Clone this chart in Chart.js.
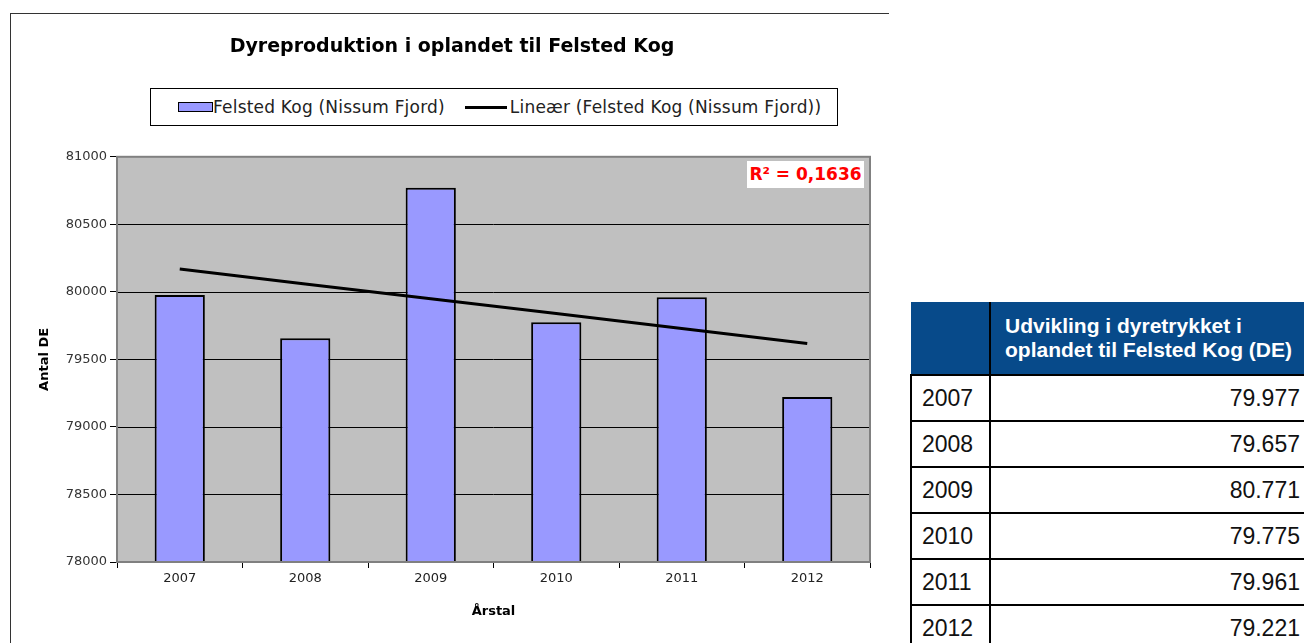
<!DOCTYPE html>
<html>
<head>
<meta charset="utf-8">
<script src="https://cdn.jsdelivr.net/npm/chart.js@4"></script>
<style>
    body { margin: 0; background: #fff; font-family: "DejaVu Sans", Arial, sans-serif; }
    #frame { position: absolute; left: 10px; top: 13px; width: 878px; height: 640px; border-top: 1px solid #333; border-left: 1px solid #333; }
    #chartBox { position: absolute; left: 11px; top: 14px; width: 878px; height: 629px; }
    #legend { position: absolute; left: 150px; top: 88px; width: 686px; height: 36px; border: 1px solid #000; background: #fff;
              font-size: 17px; letter-spacing: 0.2px; color: #222; display: flex; align-items: center; white-space: nowrap; }
    #legend .sw { display: inline-block; width: 33px; height: 8px; background: #9999ff; border: 1px solid #000; margin-left: 27px; }
    #legend .ln { display: inline-block; width: 42px; height: 3px; background: #000; margin-left: 20px; margin-right: 3px; }
    #r2 { position: absolute; left: 747px; top: 161px; width: 117px; height: 27px; background: #fff; color: #ff0000;
          font-weight: bold; font-size: 17px; line-height: 27px; text-align: center; white-space: nowrap; }
    table { position: absolute; left: 910px; top: 302px; width: 400px; border-collapse: collapse;
            font-family: "Liberation Sans Narrow", "Arial Narrow", "Liberation Sans", sans-serif; }
    th { background: #074a8a; color: #fff; font-weight: bold; font-size: 21px; text-align: left; line-height: 24px; height: 72px;
         padding: 0 0 0 14px; }
    th.c0 { width: 64px; border-right: 2px solid #000; }
    td { border: 2px solid #000; height: 44px; font-size: 23px; color: #111; padding: 0; }
    td.c0 { padding-left: 10px; }
    td.c1 { text-align: right; padding-right: 10px; border-right: none; }
</style>
</head>
<body>
<div id="frame"></div>
<div id="chartBox"><canvas id="chart"></canvas></div>
<div id="legend"><span class="sw"></span>Felsted Kog (Nissum Fjord)<span class="ln"></span>Lineær (Felsted Kog (Nissum Fjord))</div>
<div id="r2">R² = 0,1636</div>
<table id="tbl"></table>
<script>
const years = ['2007', '2008', '2009', '2010', '2011', '2012'];
const animals = [79977, 79657, 80771, 79775, 79961, 79221];
const trend = [80170, 80059, 79949, 79839, 79728, 79618];
const tableValues = ['79.977', '79.657', '80.771', '79.775', '79.961', '79.221'];
const yTicks = { min: 78000, max: 81000, step: 500 };

const FONT = '"DejaVu Sans", Arial';

// table to the right
const tbl = document.getElementById('tbl');
let html = '<tr><th class="c0"></th><th>Udvikling i dyretrykket i<br>oplandet til Felsted Kog (DE)</th></tr>';
years.forEach((y, i) => {
    html += '<tr><td class="c0">' + y + '</td><td class="c1">' + tableValues[i] + '</td></tr>';
});
tbl.innerHTML = html;

const plotFrame = {
    id: 'plotFrame',
    beforeDatasetsDraw(chart) {
        const a = chart.chartArea, c = chart.ctx;
        c.save();
        c.fillStyle = '#c0c0c0';
        c.fillRect(a.left, a.top, a.right - a.left, a.bottom - a.top);
        // grid lines on top of the fill
        const y = chart.scales.y;
        c.strokeStyle = '#000';
        c.lineWidth = 1;
        for (let v = yTicks.min + yTicks.step; v < yTicks.max; v += yTicks.step) {
            const py = Math.round(y.getPixelForValue(v)) + 0.5;
            c.beginPath(); c.moveTo(a.left, py); c.lineTo(a.right, py); c.stroke();
        }
        c.restore();
    },
    afterDatasetsDraw(chart) {
        const a = chart.chartArea, c = chart.ctx;
        c.save();
        c.strokeStyle = '#808080';
        c.lineWidth = 2;
        c.strokeRect(a.left, a.top, a.right - a.left, a.bottom - a.top);
        c.restore();
    }
};

new Chart(document.getElementById('chart').getContext('2d'), {
    data: {
        labels: years,
        datasets: [
            {
                type: 'line',
                label: 'Lineær (Felsted Kog (Nissum Fjord))',
                data: trend,
                borderColor: '#000',
                borderWidth: 3,
                pointRadius: 0,
                order: 0
            },
            {
                type: 'bar',
                label: 'Felsted Kog (Nissum Fjord)',
                data: animals,
                backgroundColor: '#9999ff',
                borderColor: '#000',
                borderWidth: 2,
                borderSkipped: 'bottom',
                barPercentage: 0.4,
                categoryPercentage: 1,
                order: 1
            }
        ]
    },
    options: {
        responsive: true,
        maintainAspectRatio: false,
        animation: false,
        layout: { padding: { left: 23, right: 19, top: 0, bottom: 0 } },
        plugins: {
            legend: { display: false },
            tooltip: { enabled: false },
            title: {
                display: true,
                text: 'Dyreproduktion i oplandet til Felsted Kog',
                color: '#000',
                font: { family: FONT, size: 19, weight: 'bold' },
                padding: { top: 22, bottom: 98 }
            }
        },
        scales: {
            y: {
                min: yTicks.min,
                max: yTicks.max,
                afterFit: s => { s.width = 83; },
                ticks: {
                    stepSize: yTicks.step,
                    callback: v => String(v),
                    color: '#333',
                    font: { family: FONT, size: 13 },
                    padding: 3
                },
                grid: { color: '#000', drawOnChartArea: false, tickLength: 7 },
                border: { display: false },
                title: {
                    display: true,
                    text: 'Antal DE',
                    color: '#000',
                    font: { family: FONT, size: 13, weight: 'bold' },
                    padding: { top: 3, bottom: 0 }
                }
            },
            x: {
                afterFit: s => { s.height = 81; },
                ticks: {
                    color: '#222',
                    font: { family: FONT, size: 13 },
                    padding: 3
                },
                grid: { color: '#000', drawOnChartArea: false, tickLength: 6, offset: true },
                border: { display: false },
                title: {
                    display: true,
                    text: 'Årstal',
                    color: '#000',
                    font: { family: FONT, size: 13, weight: 'bold' },
                    padding: { top: 14, bottom: 24 }
                }
            }
        }
    },
    plugins: [plotFrame]
});
</script>
</body>
</html>
